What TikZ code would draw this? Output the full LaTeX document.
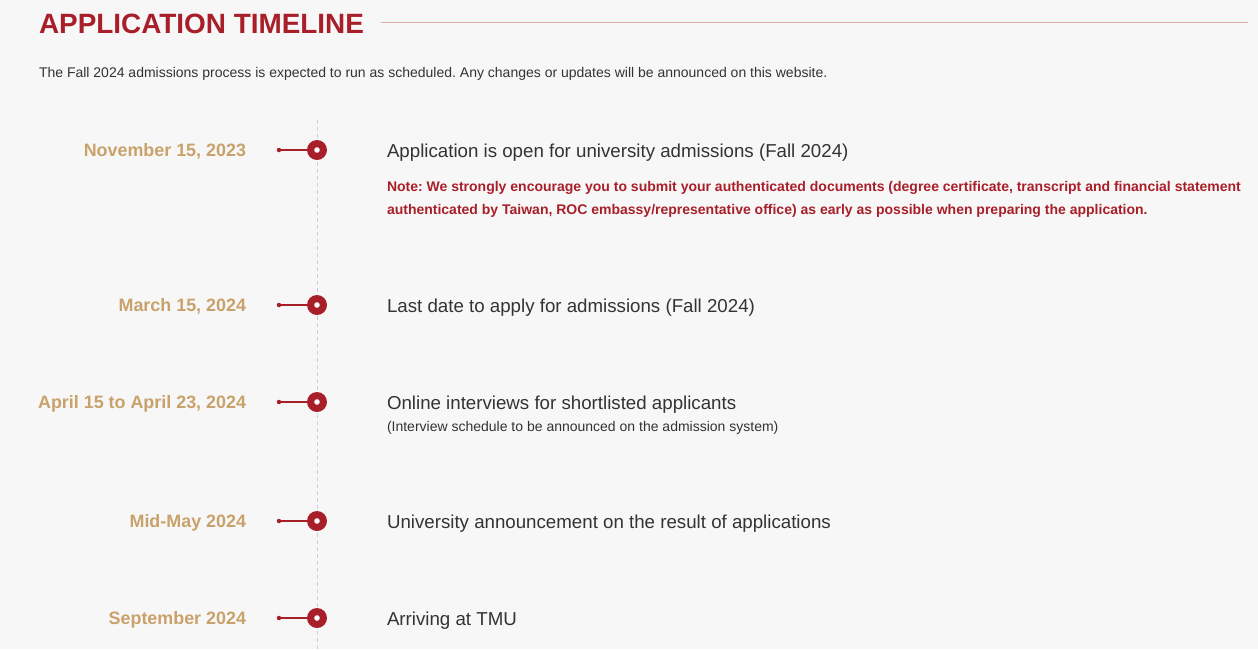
\documentclass[tikz,border=0pt]{standalone}
\usepackage{fontspec}
\setmainfont{Liberation Sans}
\definecolor{tmured}{HTML}{A81F29}
\definecolor{tmutan}{HTML}{C9A26B}
\definecolor{tmutext}{HTML}{333333}
\definecolor{tmubg}{HTML}{F7F7F7}
\definecolor{tmurule}{HTML}{DDA8A8}
\definecolor{tmudash}{HTML}{CFCFCF}
\frenchspacing
\begin{document}
\begin{tikzpicture}[x=1pt,y=-1pt,
  txt/.style={inner sep=0pt,outer sep=0pt,anchor=base west},
  datelbl/.style={inner sep=0pt,outer sep=0pt,anchor=base east,text=tmutan,font=\fontsize{17.9}{21}\selectfont\bfseries},
  itemlbl/.style={txt,text=tmutext,font=\fontsize{18.7}{22}\selectfont},
  notelbl/.style={txt,text=tmured,font=\fontsize{14}{16}\selectfont\bfseries},
  sublbl/.style={txt,text=tmutext,font=\fontsize{14}{16}\selectfont},
  bigdot/.style={circle,fill=tmured,minimum size=20pt,inner sep=0pt,path picture={\fill[white] (path picture bounding box.center) circle (2.8pt);}},
  smalldot/.style={circle,fill=tmured,minimum size=4.5pt,inner sep=0pt},
  stem/.style={draw=tmured,line width=1.3pt}
]
\fill[tmubg] (0,0) rectangle (1258,649);
\useasboundingbox (0,0) rectangle (1258,649);

% title
\node[txt,text=tmured,font=\fontsize{27.9}{32}\selectfont\bfseries] (title) at (39,33) {APPLICATION TIMELINE};
\coordinate (ruleA) at (381,22);
\coordinate (ruleB) at (1248,22);
\draw[tmurule,line width=0.8pt] (ruleA) -- (ruleB);
\node[txt,text=tmutext,font=\fontsize{14}{16}\selectfont] (intro) at (39,77.5) {The Fall 2024 admissions process is expected to run as scheduled. Any changes or updates will be announced on this website.};

% vertical dashed line
\coordinate (vtop) at (317,120);
\coordinate (vbot) at (317,649);
\draw[tmudash,line width=0.8pt,dash pattern=on 4pt off 3pt] (vtop) -- (vbot);

% rows
\foreach \n/\y in {1/150,2/305,3/402,4/521,5/618}{
  \node[bigdot] (c\n) at (317,\y) {};
  \node[smalldot] (p\n) at (279,\y) {};
  \draw[stem] (p\n) -- (c\n);
}

\node[datelbl] (d1) at (246,156.5) {November 15, 2023};
\node[datelbl] (d2) at (246,311.5) {March 15, 2024};
\node[datelbl] (d3) at (246,408.5) {April 15 to April 23, 2024};
\node[datelbl] (d4) at (246,527.5) {Mid-May 2024};
\node[datelbl] (d5) at (246,624.5) {September 2024};

\node[itemlbl] (t1) at (387,157) {Application is open for university admissions (Fall 2024)};
\node[notelbl] (n1a) at (387,191.5) {Note: We strongly encourage you to submit your authenticated documents (degree certificate, transcript and financial statement};
\node[notelbl] (n1b) at (387,214.5) {authenticated by Taiwan, ROC embassy/representative office) as early as possible when preparing the application.};
\node[itemlbl] (t2) at (387,312) {Last date to apply for admissions (Fall 2024)};
\node[itemlbl] (t3) at (387,409) {Online interviews for shortlisted applicants};
\node[sublbl] (s3) at (387,431.5) {(Interview schedule to be announced on the admission system)};
\node[itemlbl] (t4) at (387,528) {University announcement on the result of applications};
\node[itemlbl] (t5) at (387,625) {Arriving at TMU};
\end{tikzpicture}
\end{document}
